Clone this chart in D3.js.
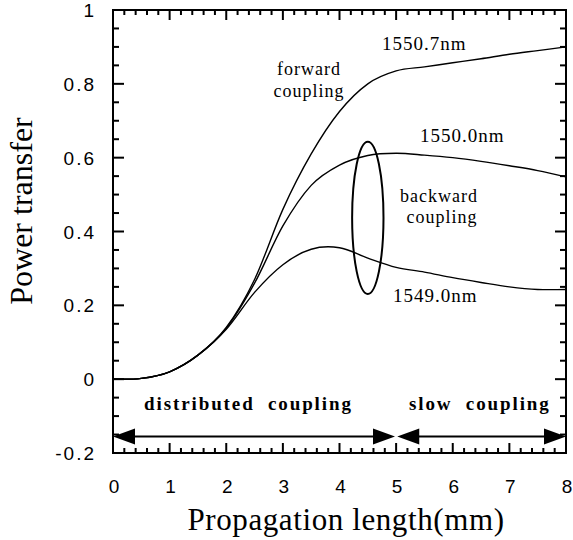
<!DOCTYPE html>
<html>
<head>
<meta charset="utf-8">
<script src="https://cdn.jsdelivr.net/npm/d3@7"></script>
<style>
  body { margin: 0; background: #fff; }
  svg { display: block; }
</style>
</head>
<body>
<div id="chart"></div>
<script>
// positions along the coupler (mm)
const lengthMm = [0, 0.5, 1, 1.5, 2, 2.5, 3, 3.5, 4, 4.5, 5, 5.5, 6, 6.5, 7, 7.5, 8];

// power transfer for each wavelength
const fwd1550_7 = [0, 0.002, 0.02, 0.065, 0.14, 0.27, 0.46, 0.61, 0.725, 0.80, 0.835, 0.846, 0.857, 0.868, 0.88, 0.89, 0.90];
const bwd1550_0 = [0, 0.002, 0.02, 0.065, 0.138, 0.26, 0.415, 0.525, 0.58, 0.606, 0.612, 0.607, 0.600, 0.590, 0.578, 0.565, 0.548];
const bwd1549_0 = [0, 0.002, 0.02, 0.065, 0.135, 0.235, 0.31, 0.352, 0.356, 0.328, 0.303, 0.29, 0.275, 0.262, 0.25, 0.243, 0.243];

const xTicks = [0, 1, 2, 3, 4, 5, 6, 7, 8];
const yTicks = [-0.2, 0, 0.2, 0.4, 0.6, 0.8, 1];

const W = 573, H = 540;
const svg = d3.select('#chart').append('svg').attr('width', W).attr('height', H);

const x = d3.scaleLinear().domain([0, 8]).range([113, 566]);
const y = d3.scaleLinear().domain([-0.2, 1]).range([453, 10]);

// minor tick positions
const minorX = d3.range(0, 41).map(i => i * 0.2);
const minorY = d3.range(0, 25).map(i => -0.2 + i * 0.05);

svg.append('rect')
  .attr('x', x(0)).attr('y', y(1))
  .attr('width', x(8) - x(0)).attr('height', y(-0.2) - y(1))
  .attr('fill', 'none').attr('stroke', '#000').attr('stroke-width', 2);

// ticks point inward on all four sides
const isMajor = (list, v) => list.some(t => Math.abs(t - v) < 1e-6);
const tickG = svg.append('g').attr('stroke', '#000').attr('stroke-width', 2);
tickG.selectAll(null).data(minorX).enter().append('line')
  .attr('x1', d => x(d)).attr('x2', d => x(d))
  .attr('y1', y(-0.2)).attr('y2', d => y(-0.2) - (isMajor(xTicks, d) ? 10 : 5));
tickG.selectAll(null).data(minorX).enter().append('line')
  .attr('x1', d => x(d)).attr('x2', d => x(d))
  .attr('y1', y(1)).attr('y2', d => y(1) + (isMajor(xTicks, d) ? 10 : 5));
tickG.selectAll(null).data(minorY).enter().append('line')
  .attr('y1', d => y(d)).attr('y2', d => y(d))
  .attr('x1', x(0)).attr('x2', d => x(0) + (isMajor(yTicks, d) ? 11 : 6));
tickG.selectAll(null).data(minorY).enter().append('line')
  .attr('y1', d => y(d)).attr('y2', d => y(d))
  .attr('x1', x(8)).attr('x2', d => x(8) - (isMajor(yTicks, d) ? 11 : 6));

// tick labels
svg.append('g').selectAll('text').data(yTicks).enter().append('text')
  .attr('x', 96).attr('y', d => y(d) + 7)
  .attr('text-anchor', 'end')
  .style('font-family', 'Liberation Sans, Arial, sans-serif')
  .style('font-size', '19px').style('letter-spacing', '2px')
  .text(d => String(d));

svg.append('g').selectAll('text').data(xTicks).enter().append('text')
  .attr('x', d => x(d) + 1).attr('y', 493)
  .attr('text-anchor', 'middle')
  .style('font-family', 'Liberation Sans, Arial, sans-serif')
  .style('font-size', '19px')
  .text(d => d);

// axis titles
svg.append('text')
  .attr('transform', `translate(32, 211) rotate(-90)`)
  .attr('text-anchor', 'middle')
  .style('font-family', 'Liberation Serif, Times New Roman, serif')
  .style('font-size', '32px')
  .text('Power transfer');

svg.append('text')
  .attr('x', 346).attr('y', 530)
  .attr('text-anchor', 'middle')
  .style('font-family', 'Liberation Serif, Times New Roman, serif')
  .style('font-size', '31px').style('letter-spacing', '0.6px')
  .text('Propagation length(mm)');

// curves
const line = d3.line()
  .x((d, i) => x(lengthMm[i]))
  .y(d => y(d))
  .curve(d3.curveCatmullRom.alpha(0));

[fwd1550_7, bwd1550_0, bwd1549_0].forEach(s => {
  svg.append('path').attr('d', line(s))
    .attr('fill', 'none').attr('stroke', '#000').attr('stroke-width', 1.4);
});

// ellipse grouping the backward curves
svg.append('ellipse')
  .attr('cx', x(4.5)).attr('cy', y(0.437))
  .attr('rx', x(4.5 + 0.277) - x(4.5))
  .attr('ry', y(0.437 - 0.206) - y(0.437))
  .attr('fill', 'none').attr('stroke', '#000').attr('stroke-width', 2);

// labels
const serif = 'Liberation Serif, Times New Roman, serif';
function label(txt, px, py, size, anchor) {
  svg.append('text').attr('x', px).attr('y', py)
    .attr('text-anchor', anchor || 'start')
    .style('font-family', serif).style('font-size', size + 'px')
    .style('letter-spacing', '1px')
    .text(txt);
}
label('1550.7nm', 382, 50, 19);
label('1550.0nm', 420, 142, 19);
label('1549.0nm', 393, 302, 19);
label('forward', 309, 75, 18, 'middle');
label('coupling', 309, 97, 18, 'middle');
label('backward', 439, 202, 18, 'middle');
label('coupling', 442, 223, 18, 'middle');

// coupling regions with double arrows
const regions = [
  { name: 'distributed  coupling', from: 0, to: 4.98, tx: 144 },
  { name: 'slow  coupling', from: 5.02, to: 8, tx: 409 }
];
const arrowY = y(-0.155);
regions.forEach(r => {
  const x0 = x(r.from), x1 = x(r.to);
  svg.append('line')
    .attr('x1', x0 + 10).attr('x2', x1 - 10)
    .attr('y1', arrowY).attr('y2', arrowY)
    .attr('stroke', '#000').attr('stroke-width', 2);
  svg.append('path')
    .attr('d', `M${x0},${arrowY}L${x0 + 22},${arrowY - 8}L${x0 + 22},${arrowY + 8}Z`)
    .attr('fill', '#000');
  svg.append('path')
    .attr('d', `M${x1},${arrowY}L${x1 - 22},${arrowY - 8}L${x1 - 22},${arrowY + 8}Z`)
    .attr('fill', '#000');
  svg.append('text')
    .attr('x', r.tx).attr('y', 410)
    .style('font-family', serif).style('font-size', '19px')
    .style('font-weight', 'bold').style('letter-spacing', '1.9px')
    .style('white-space', 'pre')
    .text(r.name);
});
</script>
</body>
</html>
